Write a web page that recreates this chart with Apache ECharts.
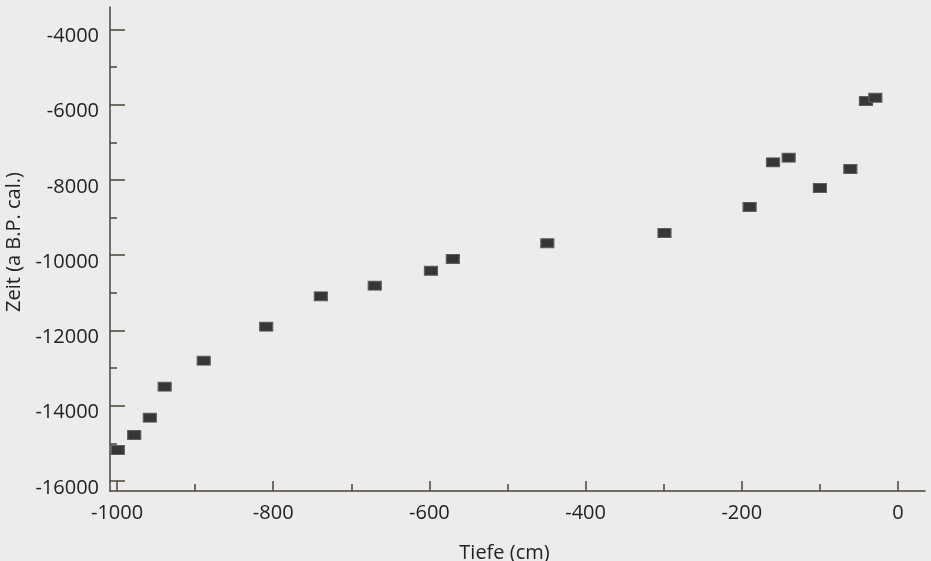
<!DOCTYPE html>
<html>
<head>
<meta charset="utf-8">
<script src="https://cdn.jsdelivr.net/npm/echarts@6/dist/echarts.min.js"></script>
<style>
  html, body { margin: 0; padding: 0; background: #ececec; }
  #chart { width: 931px; height: 561px; }
</style>
</head>
<body>
<div id="chart"></div>
<script>
// Tiefe (cm) und Zeit (a B.P. cal.)
var depth = [-999, -978, -958, -939, -889, -809, -739, -670, -598, -570, -449, -299, -190, -160, -140, -100, -61, -41, -29];
var age = [-15176, -14777, -14318, -13494, -12803, -11899, -11091, -10809, -10411, -10100, -9682, -9409, -8718, -7530, -7407, -8213, -7708, -5900, -5813];

var xMajor = [-1000, -800, -600, -400, -200, 0];
var xMinor = [-900, -700, -500, -300, -100];
var yMajor = [-16000, -14000, -12000, -10000, -8000, -6000, -4000];
var yMinor = [-15000, -13000, -11000, -9000, -7000, -5000];

var axisColor = '#4b4337';
var textColor = '#222222';
var font = 'Open Sans';

var points = [];
for (var i = 0; i < depth.length; i++) {
    points.push([depth[i], age[i]]);
}

function plain(v) {
    return String(v);
}

var chart = echarts.init(document.getElementById('chart'));
chart.setOption({
    backgroundColor: '#ececec',
    animation: false,
    grid: { left: 110, top: 7, width: 815, height: 484, outerBoundsMode: 'none', containLabel: false },
    xAxis: [{
        type: 'value', position: 'bottom',
        min: -1009, max: 34.6,
        name: 'Tiefe (cm)', nameLocation: 'middle', nameGap: 52,
        nameTextStyle: { fontFamily: font, fontSize: 20, color: textColor, padding: [0, 26, 0, 0] },
        axisLine: { show: true, onZero: false, lineStyle: { color: axisColor, width: 1.5 } },
        axisTick: { show: true, inside: true, length: 10, customValues: xMajor, lineStyle: { color: axisColor, width: 1.5 } },
        axisLabel: { customValues: xMajor, formatter: plain, margin: 12, fontFamily: font, fontSize: 20, color: textColor },
        splitLine: { show: false }
    }, {
        type: 'value', position: 'bottom',
        min: -1009, max: 34.6,
        axisLine: { show: false, onZero: false },
        axisTick: { show: true, inside: true, length: 7, customValues: xMinor, lineStyle: { color: axisColor, width: 1.5 } },
        axisLabel: { show: false },
        splitLine: { show: false }
    }],
    yAxis: [{
        type: 'value', position: 'left',
        min: -16266, max: -3402,
        name: 'Zeit (a B.P. cal.)', nameLocation: 'middle', nameGap: 85,
        nameTextStyle: { fontFamily: font, fontSize: 20, color: textColor, padding: [0, 0, 0, 14] },
        axisLine: { show: true, onZero: false, lineStyle: { color: axisColor, width: 1.5 } },
        axisTick: { show: true, inside: true, length: 15, customValues: yMajor, lineStyle: { color: axisColor, width: 1.5 } },
        axisLabel: { customValues: yMajor, formatter: plain, margin: 11, fontFamily: font, fontSize: 20, color: textColor, verticalAlign: 'top', lineHeight: 14 },
        splitLine: { show: false }
    }, {
        type: 'value', position: 'left',
        min: -16266, max: -3402,
        axisLine: { show: false, onZero: false },
        axisTick: { show: true, inside: true, length: 7, customValues: yMinor, lineStyle: { color: axisColor, width: 1.5 } },
        axisLabel: { show: false },
        splitLine: { show: false }
    }],
    series: [{
        type: 'scatter',
        xAxisIndex: 0, yAxisIndex: 0,
        symbol: 'rect',
        symbolSize: [13, 9],
        itemStyle: { color: '#363636', borderColor: '#5e5e5e', borderWidth: 1, opacity: 1 },
        data: points
    }]
});
</script>
</body>
</html>
